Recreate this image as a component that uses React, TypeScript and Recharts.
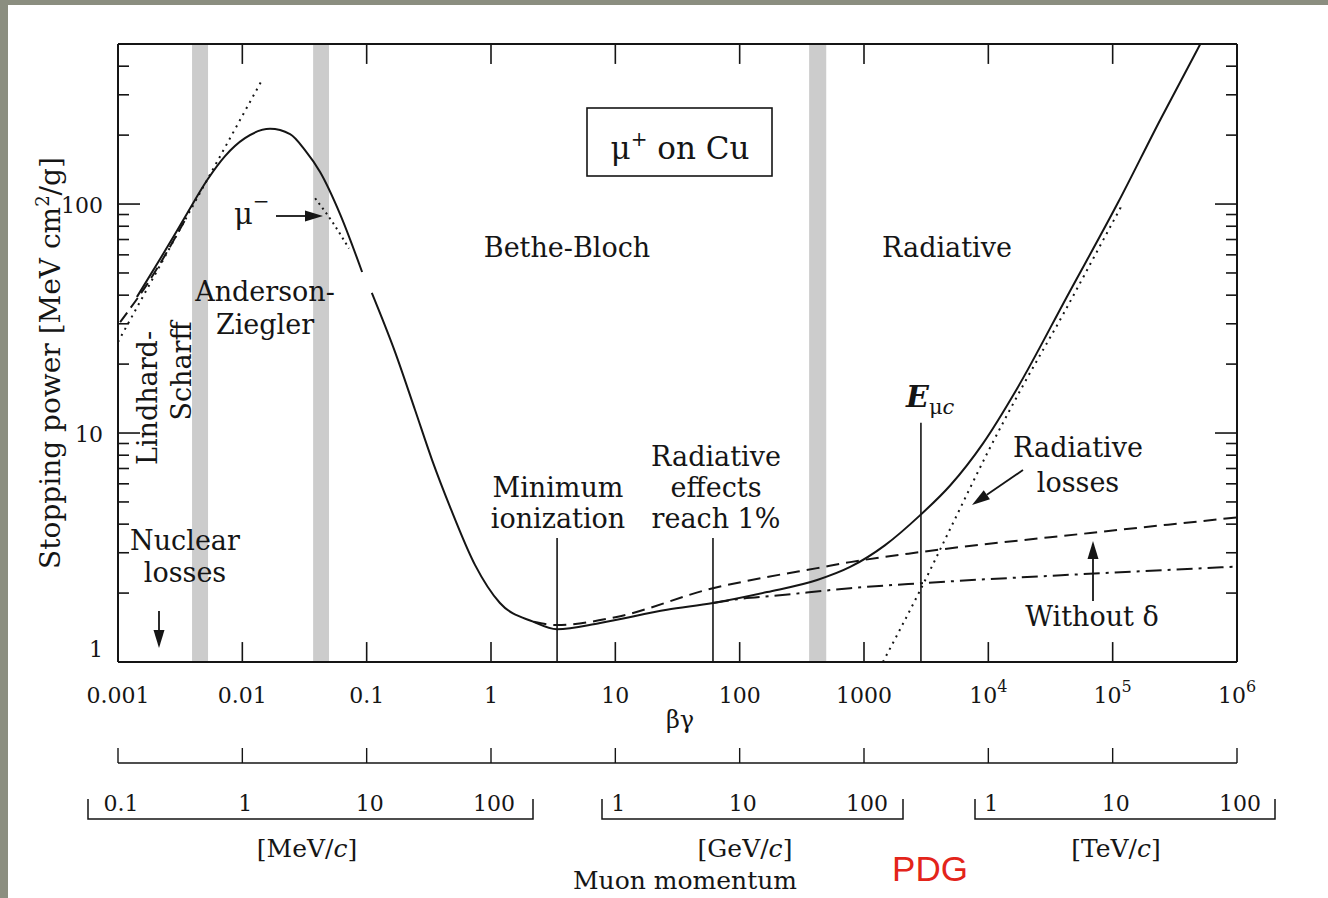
import { LineChart, Line, XAxis, YAxis, ReferenceArea, ReferenceLine } from 'recharts';

// muon on copper: stopping power [MeV cm2/g] vs beta*gamma
const azBg = [0.00142, 0.00218, 0.00346, 0.0052, 0.00726, 0.0105, 0.0167, 0.0242, 0.0319, 0.0422, 0.0611, 0.0919];
const azS = [39.3, 57.5, 87.7, 127, 162, 194, 213, 202, 172, 138, 90.4, 50.5];

const totalBg = [0.11, 0.169, 0.245, 0.336, 0.469, 0.745, 1.18, 2.18, 3.4, 7.55, 26, 61, 166, 420, 774, 1480, 2832, 4930, 9100, 17100, 43200, 111000, 241000, 507000];
const totalS = [40.9, 22.6, 12.6, 7.62, 4.75, 2.65, 1.81, 1.5, 1.39, 1.48, 1.69, 1.81, 2.02, 2.28, 2.6, 3.24, 4.38, 5.9, 9.04, 15.7, 39.7, 102, 233, 500];

const muMinusBg = [0.0385, 0.0537, 0.072];
const muMinusS = [106, 82.6, 64];

const lindhardBg = [0.00104, 0.0018, 0.0035];
const lindhardS = [30.5, 46.5, 86];

const lowDotBg = [0.001, 0.0144];
const lowDotS = [25, 348];

const ionBg = [2.2, 3.4, 10, 61, 166, 420, 774, 2832, 66000, 1000000];
const ionS = [1.5, 1.45, 1.57, 2.1, 2.35, 2.57, 2.73, 3.02, 3.66, 4.28];

const noDeltaBg = [61, 88.7, 200, 774, 2940, 58000, 1000000];
const noDeltaS = [1.81, 1.87, 1.95, 2.1, 2.21, 2.42, 2.61];

const radBg = [1420, 2832, 4930, 10000, 19100, 40000, 70000, 120000];
const radS = [1.0, 2.06, 3.81, 8.34, 16.2, 33, 58, 100];

const bgTicks = [0.001, 0.01, 0.1, 1, 10, 100, 1000, 10000, 100000, 1000000];
const bgTickLabels = ['0.001', '0.01', '0.1', '1', '10', '100', '1000', '10^4', '10^5', '10^6'];
const yTicks = [1, 2, 3, 4, 5, 6, 7, 8, 9, 10, 20, 30, 40, 50, 60, 70, 80, 90, 100, 200, 300, 400, 500];
const yTickLabels: Record<number, string> = { 1: '1', 10: '10', 100: '100' };
// muon momentum in MeV/c
const pTicks = [0.1, 1, 10, 100, 1000, 10000, 100000, 1000000, 10000000, 100000000];
const pTickLabels = ['0.1', '1', '10', '100', '1', '10', '100', '1', '10', '100'];

const bands = [
  [0.00394, 0.0053],
  [0.0371, 0.0498],
  [362, 497],
];

const Y_MIN = 1;
const Y_MAX = 500;
// inner x tick length, as a factor on the log y axis (about 20 px)
const TICK_F = 1.222;

const zip = (xs: number[], ys: number[]) => xs.map((bg, i) => ({ bg, s: ys[i] }));

const FONT = '"DejaVu Serif", serif';
const INK = '#151515';

const BgTick = (props: any) => {
  const { x, y, payload } = props;
  const lab = bgTickLabels[bgTicks.indexOf(payload.value)] || '';
  const [base, sup] = lab.split('^');
  return (
    <text x={x} y={y + 41} textAnchor="middle" fontFamily={FONT} fontSize={22} fill={INK}>
      {base}
      {sup && (
        <tspan dy={-11} fontSize={16}>
          {sup}
        </tspan>
      )}
    </text>
  );
};

const isDecade = (v: number) => Math.abs(Math.log10(v) - Math.round(Math.log10(v))) < 1e-6;

const LeftTick = (props: any) => {
  const { x, y, payload } = props;
  const v = payload.value;
  const len = isDecade(v) ? 22 : 11;
  const lab = yTickLabels[v];
  return (
    <g>
      <line x1={x} x2={x + len} y1={y} y2={y} stroke={INK} strokeWidth={1.6} />
      {lab && (
        <text x={x - 15} y={v === 1 ? y - 5 : y + 9} textAnchor="end" fontFamily={FONT} fontSize={22} fill={INK}>
          {lab}
        </text>
      )}
    </g>
  );
};

const RightTick = (props: any) => {
  const { x, y, payload } = props;
  const len = isDecade(payload.value) ? 22 : 11;
  return <line x1={x} x2={x - len} y1={y} y2={y} stroke={INK} strokeWidth={1.6} />;
};

const PTick = (props: any) => {
  const { x, y, payload } = props;
  const lab = pTickLabels[pTicks.indexOf(payload.value)] || '';
  return (
    <g>
      <line x1={x} x2={x} y1={y} y2={y - 15} stroke={INK} strokeWidth={1.4} />
      <text x={x + 3} y={y + 48} textAnchor="middle" fontFamily={FONT} fontSize={22} fill={INK}>
        {lab}
      </text>
    </g>
  );
};

const Arrow = ({ x1, y1, x2, y2, head = 18, half = 5.5 }: any) => {
  const a = Math.atan2(y2 - y1, x2 - x1);
  const bx = x2 - head * Math.cos(a);
  const by = y2 - head * Math.sin(a);
  const px = -Math.sin(a) * half;
  const py = Math.cos(a) * half;
  return (
    <g>
      <line x1={x1} y1={y1} x2={bx} y2={by} stroke={INK} strokeWidth={1.8} />
      <polygon points={`${x2},${y2} ${bx + px},${by + py} ${bx - px},${by - py}`} fill={INK} />
    </g>
  );
};

const T = ({ x, y, children, size = 27, anchor = 'middle', ...rest }: any) => (
  <text x={x} y={y} textAnchor={anchor} fontFamily={FONT} fontSize={size} fill={INK} {...rest}>
    {children}
  </text>
);

const Bracket = ({ x1, x2 }: any) => (
  <path d={`M${x1},799 L${x1},819 L${x2},819 L${x2},799`} fill="none" stroke={INK} strokeWidth={1.5} />
);

const Overlay = () => (
  <svg width={1328} height={898} style={{ position: 'absolute', left: 0, top: 0, pointerEvents: 'none' }}>
    <rect x={587} y={108} width={185} height={68} fill="none" stroke={INK} strokeWidth={1.6} />
    <T x={680} y={159} size={31}>
      μ<tspan dy={-13} fontSize={20}>+</tspan>
      <tspan dy={13}> on Cu</tspan>
    </T>

    <T x={567} y={257}>Bethe-Bloch</T>
    <T x={947} y={257}>Radiative</T>
    <T x={265} y={301}>Anderson-</T>
    <T x={265} y={334}>Ziegler</T>

    <T x={234} y={224} anchor="start" size={29}>
      μ<tspan dy={-16} fontSize={20}>−</tspan>
    </T>
    <Arrow x1={276} y1={216} x2={323} y2={216} />

    <T x={0} y={0} transform="translate(157,398) rotate(-90)">Lindhard-</T>
    <T x={0} y={0} transform="translate(191,371) rotate(-90)">Scharff</T>

    <T x={185} y={550}>Nuclear</T>
    <T x={185} y={582}>losses</T>
    <Arrow x1={159} y1={611} x2={159} y2={648} />

    <T x={558} y={497}>Minimum</T>
    <T x={558} y={528}>ionization</T>
    <T x={716} y={466}>Radiative</T>
    <T x={716} y={497}>effects</T>
    <T x={716} y={528}>reach 1%</T>

    <T x={906} y={407} anchor="start" size={30} fontStyle="italic" fontWeight="bold">
      E
      <tspan dy={7} fontSize={21} fontStyle="normal" fontWeight="normal">
        μ
      </tspan>
      <tspan fontSize={21} fontWeight="normal">c</tspan>
    </T>

    <T x={1078} y={457}>Radiative</T>
    <T x={1078} y={492}>losses</T>
    <Arrow x1={1023} y1={470} x2={972} y2={505} />

    <T x={1092} y={626}>Without δ</T>
    <Arrow x1={1093} y1={601} x2={1093} y2={541} />

    <T x={0} y={0} size={28} transform="translate(60,363) rotate(-90)">
      Stopping power [MeV cm<tspan dy={-11} fontSize={18}>2</tspan>
      <tspan dy={11}>/g]</tspan>
    </T>

    <T x={680} y={728} size={24}>βγ</T>

    <Bracket x1={88} x2={533} />
    <Bracket x1={602} x2={903} />
    <Bracket x1={975} x2={1275} />

    <T x={307} y={857} size={25}>
      [MeV/<tspan fontStyle="italic">c</tspan>]
    </T>
    <T x={745} y={857} size={25}>
      [GeV/<tspan fontStyle="italic">c</tspan>]
    </T>
    <T x={1116} y={857} size={25}>
      [TeV/<tspan fontStyle="italic">c</tspan>]
    </T>
    <T x={685} y={889} size={25}>Muon momentum</T>

    <text x={930} y={881} textAnchor="middle" fontFamily='"Liberation Sans", Arial, sans-serif' fontSize={35} fill="#e3241a">
      PDG
    </text>
  </svg>
);

export default function App() {
  const solid = { stroke: INK, strokeWidth: 2, dot: false, isAnimationActive: false, xAxisId: 'bg', yAxisId: 'left', dataKey: 's' } as const;
  return (
    <div style={{ position: 'fixed', left: 0, top: 0, width: 1328, height: 898, background: '#fff', overflow: 'hidden' }}>
      <LineChart width={1328} height={898} margin={{ top: 34, right: 81, bottom: 85, left: 58 }}>
        <XAxis
          xAxisId="bg"
          dataKey="bg"
          type="number"
          scale="log"
          domain={[0.001, 1000000]}
          allowDataOverflow
          ticks={bgTicks}
          interval={0}
          height={101}
          tickSize={0}
          tickMargin={0}
          tickLine={false}
          axisLine={{ stroke: INK, strokeWidth: 2 }}
          tick={<BgTick />}
        />
        <XAxis
          xAxisId="p"
          dataKey="bg"
          type="number"
          scale="log"
          domain={[0.1, 100000000]}
          allowDataOverflow
          ticks={pTicks}
          interval={0}
          height={50}
          tickSize={0}
          tickMargin={0}
          tickLine={false}
          axisLine={{ stroke: INK, strokeWidth: 1.5 }}
          tick={<PTick />}
        />
        <XAxis
          xAxisId="top"
          dataKey="bg"
          orientation="top"
          type="number"
          scale="log"
          domain={[0.001, 1000000]}
          allowDataOverflow
          height={10}
          tick={false}
          tickLine={false}
          axisLine={{ stroke: INK, strokeWidth: 2 }}
        />
        <YAxis
          yAxisId="left"
          type="number"
          scale="log"
          domain={[Y_MIN, Y_MAX]}
          allowDataOverflow
          ticks={yTicks}
          interval={0}
          width={60}
          tickSize={0}
          tickMargin={0}
          tickLine={false}
          axisLine={{ stroke: INK, strokeWidth: 2 }}
          tick={<LeftTick />}
        />
        <YAxis
          yAxisId="right"
          orientation="right"
          type="number"
          scale="log"
          domain={[Y_MIN, Y_MAX]}
          allowDataOverflow
          ticks={yTicks}
          interval={0}
          width={10}
          tickSize={0}
          tickMargin={0}
          tickLine={false}
          axisLine={{ stroke: INK, strokeWidth: 2 }}
          tick={<RightTick />}
        />

        {bands.map(([a, b], i) => (
          <ReferenceArea key={i} xAxisId="bg" yAxisId="left" x1={a} x2={b} fill="#cccccc" fillOpacity={1} stroke="none" />
        ))}

        {/* inward decade ticks on the bottom and top frame */}
        {bgTicks.map((v) => (
          <ReferenceLine key={`b${v}`} xAxisId="bg" yAxisId="left" segment={[{ x: v, y: Y_MIN }, { x: v, y: Y_MIN * TICK_F }]} stroke={INK} strokeWidth={1.6} />
        ))}
        {bgTicks.map((v) => (
          <ReferenceLine key={`t${v}`} xAxisId="bg" yAxisId="left" segment={[{ x: v, y: Y_MAX / TICK_F }, { x: v, y: Y_MAX }]} stroke={INK} strokeWidth={1.6} />
        ))}

        <ReferenceLine xAxisId="bg" yAxisId="left" segment={[{ x: 3.4, y: 1 }, { x: 3.4, y: 3.48 }]} stroke={INK} strokeWidth={1.6} />
        <ReferenceLine xAxisId="bg" yAxisId="left" segment={[{ x: 61, y: 1 }, { x: 61, y: 3.48 }]} stroke={INK} strokeWidth={1.6} />
        <ReferenceLine xAxisId="bg" yAxisId="left" segment={[{ x: 2870, y: 1 }, { x: 2870, y: 11.1 }]} stroke={INK} strokeWidth={1.6} />

        {/* invisible carriers so the top and momentum axes get a scale */}
        <Line xAxisId="top" yAxisId="left" dataKey="s" data={zip(bgTicks, bgTicks.map(() => 1))} stroke="none" dot={false} isAnimationActive={false} />
        <Line xAxisId="p" yAxisId="left" dataKey="s" data={zip(pTicks, pTicks.map(() => 1))} stroke="none" dot={false} isAnimationActive={false} />

        <Line {...solid} type="monotone" data={zip(azBg, azS)} />
        <Line {...solid} type="monotone" data={zip(totalBg, totalS)} />
        <Line {...solid} type="monotone" data={zip(muMinusBg, muMinusS)} strokeDasharray="2 4" />
        <Line {...solid} type="monotone" data={zip(lindhardBg, lindhardS)} strokeDasharray="12 6" />
        <Line {...solid} type="linear" data={zip(lowDotBg, lowDotS)} strokeDasharray="2 5" />
        <Line {...solid} type="monotone" data={zip(ionBg, ionS)} strokeDasharray="13 7" />
        <Line {...solid} type="monotone" data={zip(noDeltaBg, noDeltaS)} strokeDasharray="16 6 3 6" />
        <Line {...solid} type="monotone" data={zip(radBg, radS)} strokeDasharray="2 5" />
      </LineChart>
      <Overlay />
      <div style={{ position: 'absolute', left: 0, top: 0, width: 1328, height: 5, background: '#8b8e80' }} />
      <div style={{ position: 'absolute', left: 0, top: 0, width: 8, height: 898, background: '#8b8e80' }} />
    </div>
  );
}
